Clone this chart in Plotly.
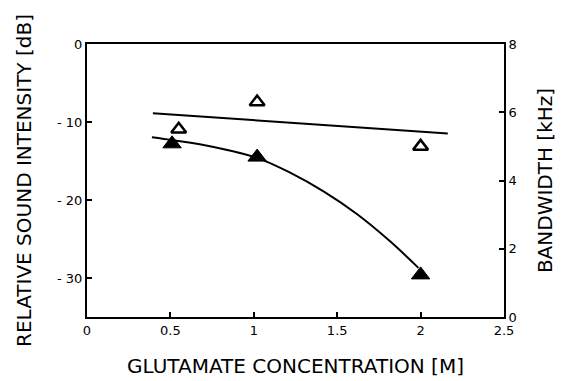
import plotly.graph_objects as go

# Glutamate concentration (M)
conc_filled = [0.51, 1.02, 2.0]
conc_open = [0.55, 1.02, 2.0]

# Relative sound intensity (dB), filled triangles
intensity_db = [-12.8, -14.5, -29.6]

# Bandwidth (kHz), open triangles
bandwidth_khz = [5.5, 6.3, 5.0]

# Smooth curve through the intensity data
curve_x = [0.389, 0.519, 0.759, 1.019, 1.218, 1.418, 1.618, 1.817, 1.987]
curve_db = [-11.96, -12.35, -13.2, -14.6, -16.5, -18.9, -21.8, -25.3, -28.7]

# Straight trend line for bandwidth
trend_x = [0.395, 2.163]
trend_khz = [5.97, 5.38]

x_ticks = [0, 0.5, 1, 1.5, 2, 2.5]
x_ticktext = ["0", "0.5", "1", "1.5", "2", "2.5"]
db_ticks = [-30, -20, -10, 0]
db_ticktext = ["- 30", "- 20", "- 10", "0"]
khz_ticks = [0, 2, 4, 6, 8]
khz_ticktext = ["0", "2", "4", "6", "8"]

FONT = "DejaVu Sans, Liberation Sans, Arial, sans-serif"

fig = go.Figure()

fig.add_trace(go.Scatter(
    x=curve_x, y=curve_db, mode="lines",
    line=dict(color="black", width=2, shape="spline", smoothing=1.0),
    hoverinfo="skip", showlegend=False,
))
fig.add_trace(go.Scatter(
    x=trend_x, y=trend_khz, mode="lines", line=dict(color="black", width=2),
    yaxis="y2", hoverinfo="skip", showlegend=False,
))
fig.add_trace(go.Scatter(
    x=conc_filled, y=intensity_db, mode="markers",
    marker=dict(symbol="triangle-up", size=16, color="black", line=dict(color="black", width=1)),
    name="Intensity", showlegend=False,
))
fig.add_trace(go.Scatter(
    x=conc_open, y=bandwidth_khz, mode="markers", yaxis="y2",
    marker=dict(symbol="triangle-up", size=13, color="white", line=dict(color="black", width=2.5)),
    name="Bandwidth", showlegend=False,
))

axis_common = dict(
    showgrid=False, zeroline=False, showline=True, linecolor="black", linewidth=2,
    ticks="inside", ticklen=5, tickwidth=1.5, tickcolor="black",
    tickfont=dict(family=FONT, size=13, color="black"),
    automargin=False,
)

fig.update_layout(
    width=562, height=381,
    margin=dict(l=87, r=58, t=44, b=64),
    paper_bgcolor="white", plot_bgcolor="white",
    font=dict(family=FONT, color="black"),
    xaxis=dict(
        range=[0, 2.5], tickvals=x_ticks, ticktext=x_ticktext, mirror=True,
        title=dict(text="GLUTAMATE CONCENTRATION [M]", font=dict(family=FONT, size=20), standoff=22),
        **axis_common,
    ),
    yaxis=dict(
        range=[-35, 0], tickvals=db_ticks, ticktext=db_ticktext,
        title=dict(text="RELATIVE SOUND INTENSITY [dB]", font=dict(family=FONT, size=20), standoff=20),
        **axis_common,
    ),
    yaxis2=dict(
        range=[0, 8], tickvals=khz_ticks, ticktext=khz_ticktext, overlaying="y", side="right",
        title=dict(text="BANDWIDTH [kHz]", font=dict(family=FONT, size=20), standoff=22),
        **axis_common,
    ),
)

fig.write_html("out.html")
